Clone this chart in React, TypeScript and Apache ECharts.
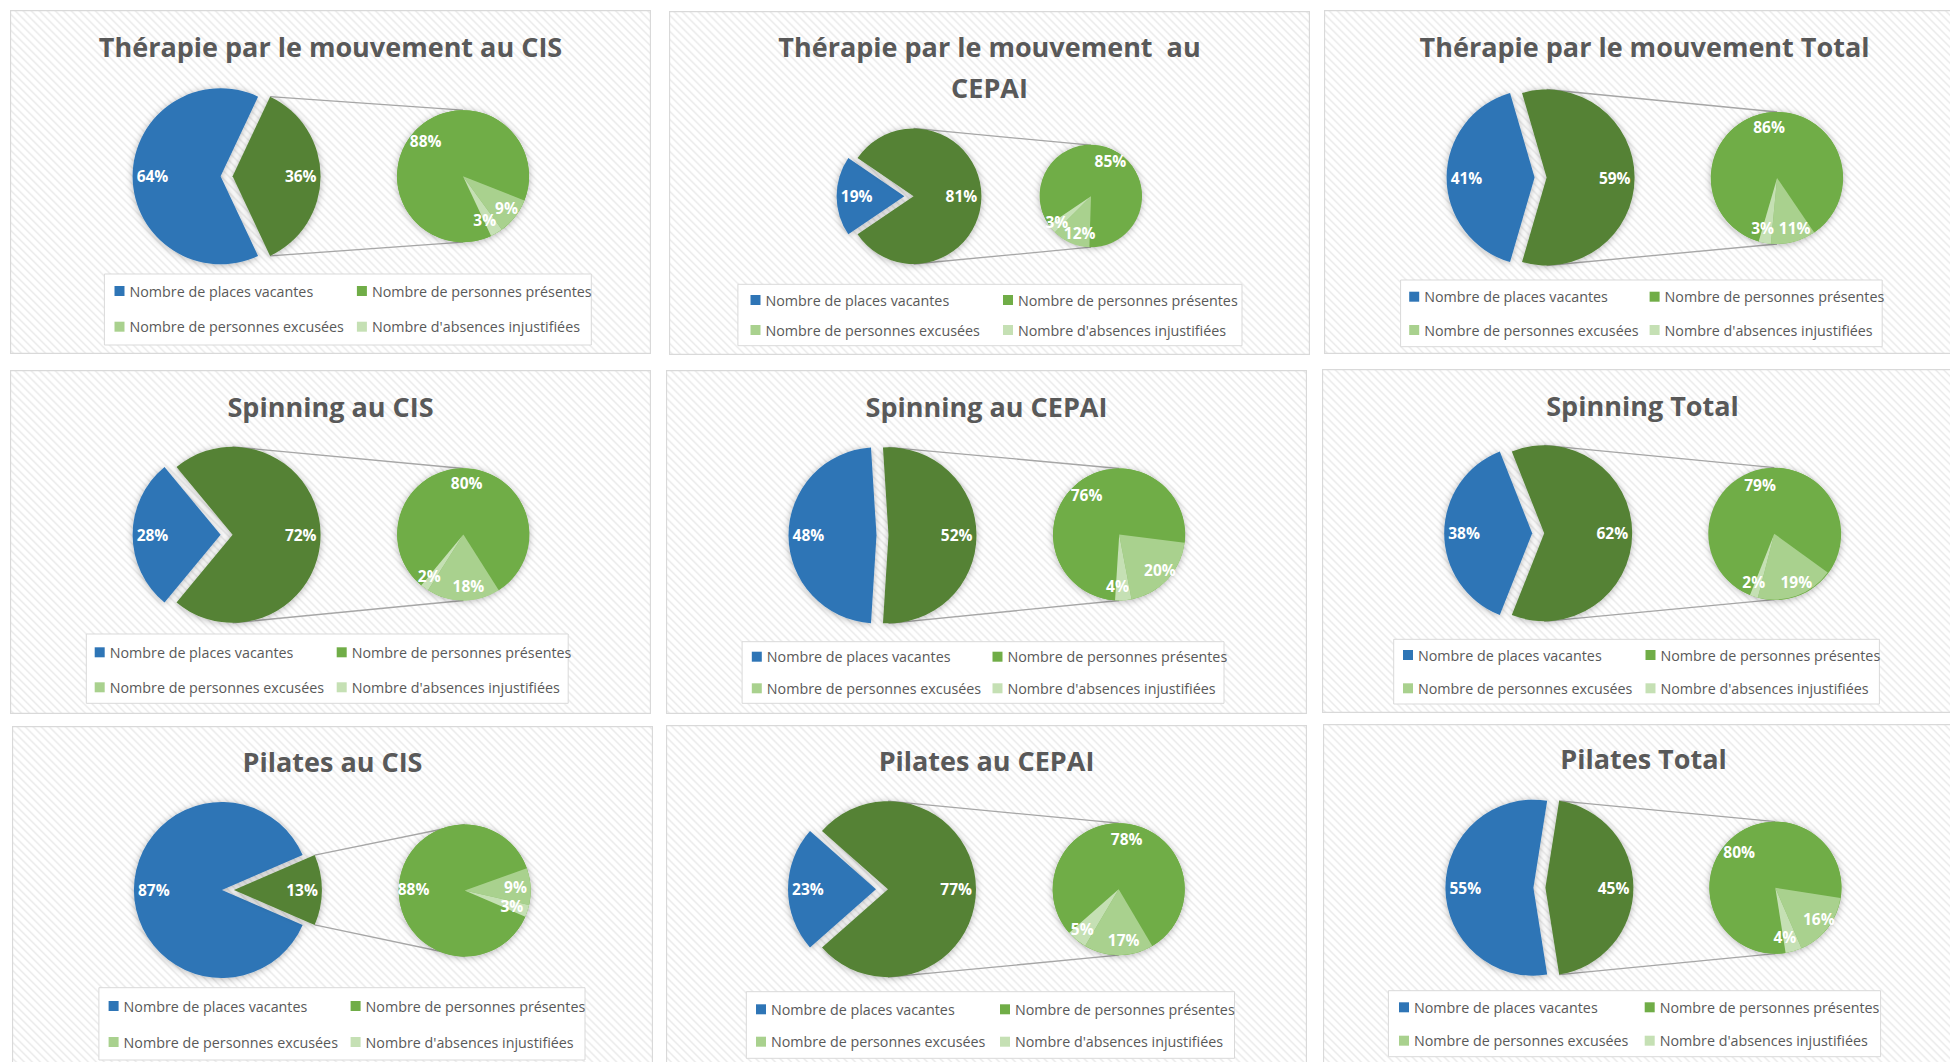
import React, { useEffect, useRef } from "react";
import * as echarts from "echarts";

// ---------- data ----------
const titles = [
  "Thérapie par le mouvement au CIS",
  "Thérapie par le mouvement  au\nCEPAI",
  "Thérapie par le mouvement Total",
  "Spinning au CIS",
  "Spinning au CEPAI",
  "Spinning Total",
  "Pilates au CIS",
  "Pilates au CEPAI",
  "Pilates Total",
];
const legendNames = [
  "Nombre de places vacantes",
  "Nombre de personnes présentes",
  "Nombre de personnes excusées",
  "Nombre d'absences injustifiées",
];
// main pie (%)
const vacantes = [64, 19, 41, 28, 48, 38, 87, 23, 55];
const autres = [36, 81, 59, 72, 52, 62, 13, 77, 45];
// secondary pie (%)
const presentes = [88, 85, 86, 80, 76, 79, 88, 78, 80];
const excusees = [9, 12, 11, 18, 20, 19, 9, 17, 16];
const injustifiees = [3, 3, 3, 2, 4, 2, 3, 5, 4];

// ---------- styles / layout ----------
const COLORS = {
  vacantes: "#2e75b6",
  autres: "#548235",
  presentes: "#70ad47",
  excusees: "#a9d18e",
  injustifiees: "#c5e0b4",
};
const FONT = '"Open Sans", "Noto Sans", sans-serif';
const PW = 641;
const PH = 344;
const NUDGE = 5;
const HATCH =
  "repeating-linear-gradient(45deg, #ffffff 0px, #ffffff 1.6px, #e9e9e9 3px, #ffffff 4.4px, #ffffff 5.66px)";

type Layout = {
  x: number;
  y: number;
  mc: [number, number];
  mr: number;
  sc: [number, number];
  sr: number;
  box: [number, number, number, number];
  cols: [number, number];
  rows: [number, number];
  ty: number[];
  lf: number;
};

const layouts: Layout[] = [
  { x: 10, y: 10, mc: [216.6, 166.3], mr: 88, sc: [453, 166.2], sr: 66, box: [94.4, 264, 581.3, 335], cols: [104.5, 346.9], rows: [281, 316.7], ty: [36.7], lf: 0.74 },
  { x: 669, y: 11, mc: [240, 185.2], mr: 67.8, sc: [422, 185.2], sr: 51, box: [68.9, 273.3, 573, 334.7], cols: [81.5, 334], rows: [289, 319], ty: [35.7, 76.3], lf: 0.66 },
  { x: 1324, y: 10, mc: [216.6, 167.5], mr: 88, sc: [453.1, 168], sr: 66, box: [76.6, 270, 558.2, 336.7], cols: [85.2, 325.6], rows: [286.7, 320], ty: [36.7], lf: 0.74 },
  { x: 10, y: 370, mc: [216.6, 164.8], mr: 88, sc: [453.4, 164.5], sr: 66, box: [76.3, 264, 558.2, 333.3], cols: [84.7, 326.7], rows: [282.3, 317.3], ty: [36.7], lf: 0.74 },
  { x: 666, y: 370, mc: [216.5, 165.3], mr: 88, sc: [453.2, 164.5], sr: 66, box: [76.1, 271.7, 558, 333.3], cols: [85.8, 326.5], rows: [286.7, 318.3], ty: [36.7], lf: 0.74 },
  { x: 1322, y: 369, mc: [216.2, 164.3], mr: 88, sc: [452.3, 164.7], sr: 66, box: [71.7, 270.3, 557.4, 335], cols: [81, 323.5], rows: [286, 319.3], ty: [36], lf: 0.74 },
  { x: 12, y: 726, mc: [215.9, 164], mr: 88, sc: [452.7, 164.5], sr: 66, box: [86.9, 261.7, 573, 334], cols: [96.6, 338.6], rows: [280, 316], ty: [35.7], lf: 0.74 },
  { x: 666, y: 725, mc: [216, 164.2], mr: 88, sc: [452.7, 164.2], sr: 66, box: [80.3, 266.7, 568.5, 333.3], cols: [90, 334], rows: [284.3, 316.7], ty: [35], lf: 0.74 },
  { x: 1323, y: 724, mc: [216.4, 163.7], mr: 88, sc: [452.3, 163.7], sr: 66, box: [65.4, 266.7, 557.6, 332.7], cols: [76, 321.7], rows: [283.3, 316.7], ty: [34.3], lf: 0.74 },
];

function buildOption(i: number): any {
  const L = layouts[i];
  const o = autres[i] / (vacantes[i] + autres[i]);
  const start = -180 * o; // "other" slice centred on 3 o'clock
  const d = (6 * L.mr) / 88; // explosion
  const [mx, my] = L.mc;
  const [sx, sy] = L.sc;
  const th = (Math.min(o * 180, 90) * Math.PI) / 180;
  const ex = mx + d + L.mr * Math.cos(th);
  const ey = L.mr * Math.sin(th);

  // secondary labels: nudge the two small slices' labels apart along the arc
  const secVals = [presentes[i], excusees[i], injustifiees[i]];
  const secTot = secVals.reduce((a, b) => a + b, 0);
  const startCw = 90 + 180 * o;
  let cum = 0;
  const secLabelData = secVals.map((v, k) => {
    const mid = startCw + ((cum + v / 2) / secTot) * 360;
    cum += v;
    const a = (mid * Math.PI) / 180;
    const s = k === 1 ? -NUDGE : k === 2 ? NUDGE : 0;
    const dx = Math.cos(a) * s;
    const dy = Math.sin(a) * s;
    const padding = [dy > 0 ? 2 * dy : 0, dx < 0 ? -2 * dx : 0, dy < 0 ? -2 * dy : 0, dx > 0 ? 2 * dx : 0];
    return { name: "_l" + k, value: v, label: { padding } };
  });

  const shadow = {
    shadowBlur: 7,
    shadowColor: "rgba(0,0,0,0.3)",
    shadowOffsetX: 0,
    shadowOffsetY: 1,
  };
  const clear = { color: "rgba(0,0,0,0)", borderWidth: 0, shadowBlur: 0 };
  const base = {
    type: "pie",
    silent: true,
    startAngle: start,
    clockwise: true,
    avoidLabelOverlap: false,
    label: { show: false },
    labelLine: { show: false },
    emphasis: { disabled: true },
    itemStyle: { borderWidth: 0 },
  };
  const labelStyle = {
    show: true,
    position: "inside",
    formatter: "{c}%",
    color: "#ffffff",
    fontWeight: "bold",
    fontSize: 15.5,
    fontFamily: FONT,
  };
  const single = L.ty.length === 1;
  const lh = single ? 40 : L.ty[1] - L.ty[0];
  const legendCommon = {
    orient: "vertical",
    icon: "rect",
    itemWidth: 10,
    itemHeight: 10,
    padding: 0,
    top: L.rows[0] - 8,
    itemGap: L.rows[1] - L.rows[0] - 16,
    selectedMode: false,
    textStyle: { color: "#595959", fontSize: 14.3, fontFamily: FONT, lineHeight: 16 },
    itemStyle: { shadowBlur: 0, shadowColor: "rgba(0,0,0,0)", borderWidth: 0 },
  };

  return {
    animation: false,
    backgroundColor: "transparent",
    title: {
      text: titles[i],
      left: "center",
      top: L.ty[0] - lh / 2,
      padding: 0,
      textStyle: {
        color: "#595959",
        fontSize: 27,
        fontWeight: "bold",
        fontFamily: FONT,
        lineHeight: lh,
      },
    },
    legend: [
      { ...legendCommon, left: L.cols[0], data: [legendNames[0], legendNames[2]] },
      { ...legendCommon, left: L.cols[1], data: [legendNames[1], legendNames[3]] },
    ],
    graphic: [
      {
        type: "rect",
        z: 0,
        silent: true,
        shape: { x: 0.5, y: 0.5, width: PW - 1, height: PH - 1 },
        style: { fill: "none", stroke: "#d9d9d9", lineWidth: 1.3 },
      },
      {
        type: "rect",
        z: 1,
        silent: true,
        shape: {
          x: L.box[0],
          y: L.box[1],
          width: L.box[2] - L.box[0],
          height: L.box[3] - L.box[1],
        },
        style: { fill: "#ffffff", stroke: "#d9d9d9", lineWidth: 1 },
      },
      {
        type: "line",
        z: 1,
        silent: true,
        shape: { x1: ex, y1: my - ey, x2: sx, y2: sy - L.sr },
        style: { stroke: "#a6a6a6", lineWidth: 1.3 },
      },
      {
        type: "line",
        z: 1,
        silent: true,
        shape: { x1: ex, y1: my + ey, x2: sx, y2: sy + L.sr },
        style: { stroke: "#a6a6a6", lineWidth: 1.3 },
      },
    ],
    series: [
      {
        ...base,
        center: [mx - d, my],
        radius: [0, L.mr],
        data: [
          { name: legendNames[0], value: vacantes[i], itemStyle: { color: COLORS.vacantes, ...shadow } },
          { name: "_autres_a", value: autres[i], itemStyle: clear },
        ],
      },
      {
        ...base,
        center: [mx + d, my],
        radius: [0, L.mr],
        data: [
          { name: "_vac_b", value: vacantes[i], itemStyle: clear },
          { name: "Autres", value: autres[i], itemStyle: { color: COLORS.autres, ...shadow } },
        ],
      },
      {
        ...base,
        center: [mx, my],
        radius: [(2 * L.lf - 1) * L.mr + d, L.mr + d],
        itemStyle: clear,
        label: labelStyle,
        labelLayout: { hideOverlap: false },
        data: [
          { name: "_lv", value: vacantes[i] },
          { name: "_lo", value: autres[i] },
        ],
      },
      {
        ...base,
        center: [sx, sy],
        radius: [0, L.sr],
        data: [{ name: "_ombre", value: 1, itemStyle: { color: COLORS.presentes, ...shadow } }],
      },
      {
        ...base,
        center: [sx, sy],
        radius: [0, L.sr],
        data: [
          { name: legendNames[1], value: presentes[i], itemStyle: { color: COLORS.presentes } },
          { name: legendNames[2], value: excusees[i], itemStyle: { color: COLORS.excusees } },
          { name: legendNames[3], value: injustifiees[i], itemStyle: { color: COLORS.injustifiees } },
        ],
      },
      {
        ...base,
        center: [sx, sy],
        radius: [0.46 * L.sr, L.sr],
        itemStyle: clear,
        label: labelStyle,
        labelLayout: { hideOverlap: false },
        data: secLabelData,
      },
    ],
  };
}

function Panel({ i }: { i: number }) {
  const ref = useRef<HTMLDivElement>(null);
  useEffect(() => {
    if (!ref.current) return;
    const chart = echarts.init(ref.current, null, { renderer: "svg" });
    chart.setOption(buildOption(i));
    return () => chart.dispose();
  }, [i]);
  const L = layouts[i];
  return (
    <div
      ref={ref}
      style={{
        position: "absolute",
        left: L.x,
        top: L.y,
        width: PW,
        height: PH,
        background: HATCH,
      }}
    />
  );
}

export default function App() {
  return (
    <div
      style={{
        position: "fixed",
        left: 0,
        top: 0,
        width: 1950,
        height: 1062,
        overflow: "hidden",
        background: "#ffffff",
      }}
    >
      {titles.map((_, i) => (
        <Panel key={i} i={i} />
      ))}
    </div>
  );
}
